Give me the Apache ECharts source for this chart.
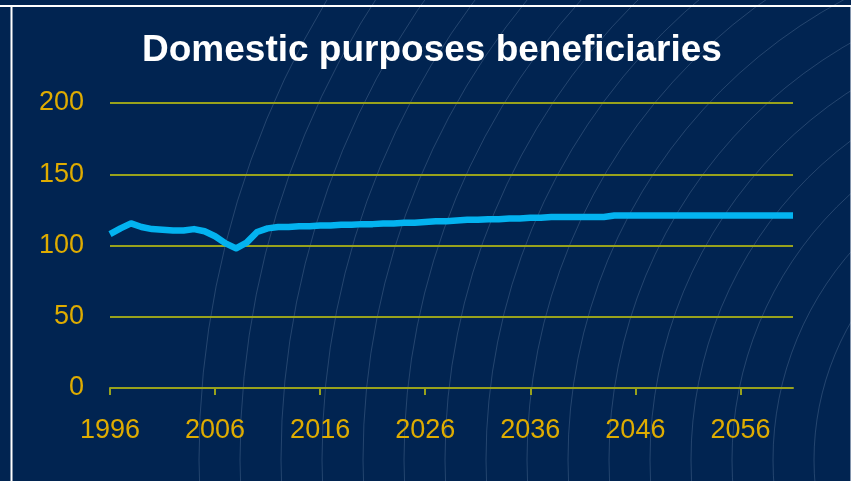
<!DOCTYPE html>
<html>
<head>
<meta charset="utf-8">
<title>Domestic purposes beneficiaries</title>
<script src="https://cdn.jsdelivr.net/npm/echarts@6/dist/echarts.min.js"></script>
<style>
  html, body { margin: 0; padding: 0; background: #012451; }
  #chart { width: 851px; height: 481px; }
</style>
</head>
<body>
<div id="chart"></div>
<script>
// Years on the horizontal axis (one category per year)
const years = [
  '1996','1997','1998','1999','2000','2001','2002','2003','2004','2005',
  '2006','2007','2008','2009','2010','2011','2012','2013','2014','2015',
  '2016','2017','2018','2019','2020','2021','2022','2023','2024','2025',
  '2026','2027','2028','2029','2030','2031','2032','2033','2034','2035',
  '2036','2037','2038','2039','2040','2041','2042','2043','2044','2045',
  '2046','2047','2048','2049','2050','2051','2052','2053','2054','2055',
  '2056','2057','2058','2059','2060','2061'
];

// Beneficiaries (thousands), actual then projected
const beneficiaries = [
  108, 112, 115.5, 113, 111.5, 111, 110.5, 110.5, 111.5, 110,
  106.5, 101.5, 98, 102, 109.5, 112, 113, 113, 113.5, 113.5,
  114, 114, 114.5, 114.5, 115, 115, 115.5, 115.5, 116, 116,
  116.5, 117, 117, 117.5, 118, 118, 118.5, 118.5, 119, 119,
  119.5, 119.5, 120, 120, 120, 120, 120, 120, 121, 121,
  121, 121, 121, 121, 121, 121, 121, 121, 121, 121,
  121, 121, 121, 121, 121, 121
];

const yTicks = [0, 50, 100, 150, 200];

const labelColor = '#dfac00';
const ruleColor = '#98a21c';
const fontFamily = 'Liberation Sans, Arial, sans-serif';

// Faint concentric arcs in the panel background
const arcs = [];
for (let r = 276; r <= 895; r += 41) {
  arcs.push({
    type: 'circle',
    silent: true,
    z: -1,
    shape: { cx: 1090, cy: 460, r: r },
    style: { fill: 'none', stroke: 'rgba(190,210,240,0.24)', lineWidth: 0.8 }
  });
}

// White panel frame
const frame = [
  { type: 'line', silent: true, z: 10, shape: { x1: 0, y1: 6, x2: 851, y2: 6 },
    style: { stroke: '#ffffff', lineWidth: 2 } },
  { type: 'line', silent: true, z: 10, shape: { x1: 11.5, y1: 6, x2: 11.5, y2: 481 },
    style: { stroke: '#ffffff', lineWidth: 2 } },
  { type: 'line', silent: true, z: 10, shape: { x1: 850.5, y1: 7, x2: 850.5, y2: 481 },
    style: { stroke: 'rgba(220,225,235,0.6)', lineWidth: 1 } }
];

const chart = echarts.init(document.getElementById('chart'));
chart.setOption({
  backgroundColor: '#012451',
  animation: false,
  title: {
    text: 'Domestic purposes beneficiaries',
    left: 137,
    top: 27,
    textStyle: {
      color: '#ffffff',
      fontFamily: fontFamily,
      fontWeight: 'bold',
      fontSize: 37
    }
  },
  graphic: arcs.concat(frame),
  grid: { left: 110, right: 58, top: 103, bottom: 93, containLabel: false },
  xAxis: {
    type: 'category',
    data: years,
    boundaryGap: false,
    axisLine: { show: true, lineStyle: { color: ruleColor, width: 2 } },
    axisTick: { show: true, interval: 9, length: 7, lineStyle: { color: ruleColor, width: 2 } },
    axisLabel: {
      interval: 9,
      margin: 29,
      color: labelColor,
      fontFamily: fontFamily,
      fontSize: 27
    },
    splitLine: { show: false }
  },
  yAxis: {
    type: 'value',
    min: yTicks[0],
    max: yTicks[yTicks.length - 1],
    interval: 50,
    axisLine: { show: false },
    axisTick: { show: false },
    axisLabel: {
      margin: 26,
      color: labelColor,
      fontFamily: fontFamily,
      fontSize: 27
    },
    splitLine: { show: true, lineStyle: { color: ruleColor, width: 2 } }
  },
  series: [{
    type: 'line',
    data: beneficiaries,
    symbol: 'none',
    z: 5,
    lineStyle: { color: '#03b3f0', width: 6.5, join: 'round', cap: 'butt' }
  }]
});
</script>
</body>
</html>
